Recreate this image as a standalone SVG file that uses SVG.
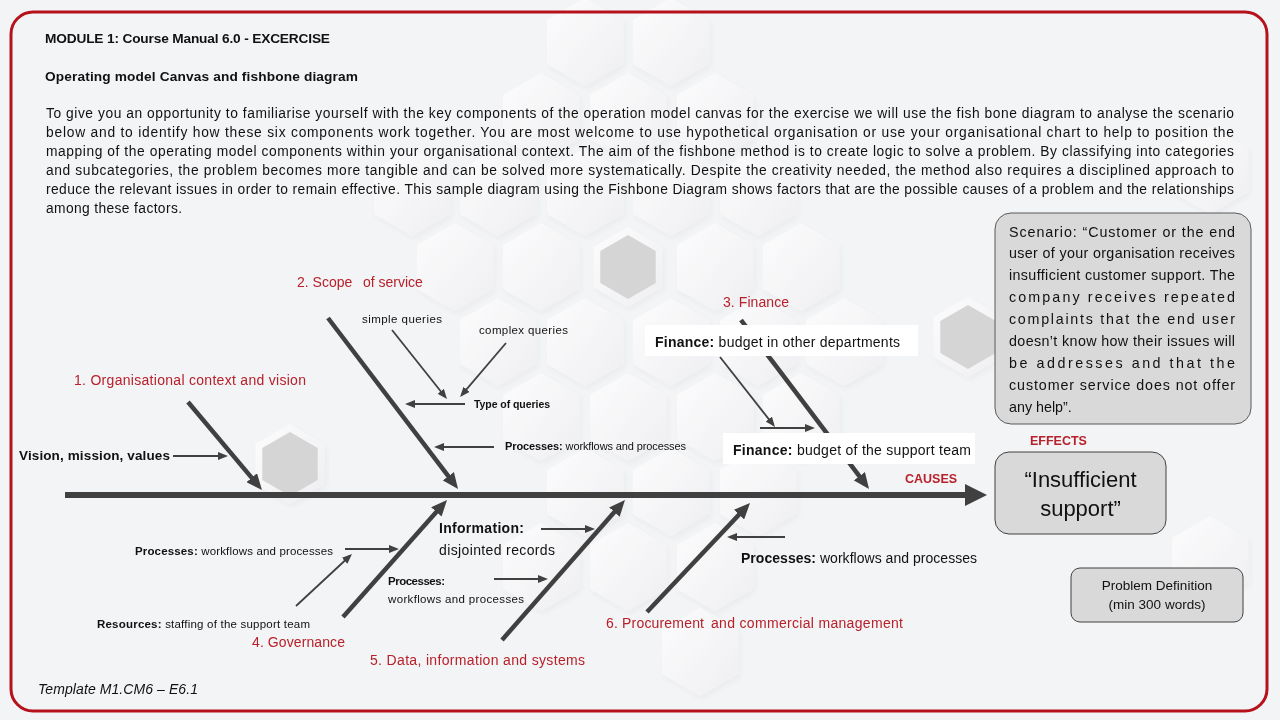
<svg xmlns="http://www.w3.org/2000/svg" xmlns:xlink="http://www.w3.org/1999/xlink" width="1280" height="720" viewBox="0 0 1280 720">
<defs>
<style>
.t{font-family:"Liberation Sans",Arial,sans-serif;fill:#111}
.b{font-weight:bold}
.red{fill:#b8202a}
.thick{stroke:#404040;stroke-width:4.5;fill:none;marker-end:url(#hd)}
.thin{stroke:#404040;stroke-width:1.8;fill:none;marker-end:url(#hs)}
.hx{fill:url(#hg)}
</style>
<linearGradient id="hg" x1="0" y1="0" x2="1" y2="1">
<stop offset="0" stop-color="#ffffff"/>
<stop offset="1" stop-color="#eeeef0"/>
</linearGradient>
<filter id="sh" x="-20%" y="-20%" width="140%" height="140%">
<feDropShadow dx="2" dy="3" stdDeviation="3" flood-color="#000" flood-opacity="0.05"/>
</filter>
<polygon id="hx" points="0,-44 38.1,-22 38.1,22 0,44 -38.1,22 -38.1,-22"/>
<polygon id="hxr" points="0,-40 34.6,-20 34.6,20 0,40 -34.6,20 -34.6,-20"/>
<polygon id="hxg" points="0,-32 27.7,-16 27.7,16 0,32 -27.7,16 -27.7,-16"/>
<marker id="hd" markerUnits="userSpaceOnUse" markerWidth="16" markerHeight="14" refX="10" refY="7" orient="auto">
<path d="M0,0 L16,7 L0,14 z" fill="#404040"/>
</marker>
<marker id="hs" markerUnits="userSpaceOnUse" markerWidth="10" markerHeight="8" refX="7" refY="4" orient="auto">
<path d="M0,0 L10,4 L0,8 z" fill="#404040"/>
</marker>
<marker id="hm" markerUnits="userSpaceOnUse" markerWidth="22" markerHeight="22" refX="12" refY="11" orient="auto">
<path d="M0,0 L22,11 L0,22 z" fill="#404040"/>
</marker>
</defs>

<rect x="0" y="0" width="1280" height="720" fill="#f3f4f6"/>

<g id="background-hexagons" filter="url(#sh)" opacity="0.75">
<use xlink:href="#hx" href="#hx" class="hx" x="585" y="42"/>
<use xlink:href="#hx" href="#hx" class="hx" x="671" y="42"/>
<use xlink:href="#hx" href="#hx" class="hx" x="541" y="117"/>
<use xlink:href="#hx" href="#hx" class="hx" x="628" y="117"/>
<use xlink:href="#hx" href="#hx" class="hx" x="715" y="117"/>
<use xlink:href="#hx" href="#hx" class="hx" x="412" y="192"/>
<use xlink:href="#hx" href="#hx" class="hx" x="498" y="192"/>
<use xlink:href="#hx" href="#hx" class="hx" x="585" y="192"/>
<use xlink:href="#hx" href="#hx" class="hx" x="671" y="192"/>
<use xlink:href="#hx" href="#hx" class="hx" x="758" y="192"/>
<use xlink:href="#hx" href="#hx" class="hx" x="455" y="267"/>
<use xlink:href="#hx" href="#hx" class="hx" x="541" y="267"/>
<use xlink:href="#hx" href="#hx" class="hx" x="715" y="267"/>
<use xlink:href="#hx" href="#hx" class="hx" x="801" y="267"/>
<use xlink:href="#hx" href="#hx" class="hx" x="498" y="342"/>
<use xlink:href="#hx" href="#hx" class="hx" x="585" y="342"/>
<use xlink:href="#hx" href="#hx" class="hx" x="671" y="342"/>
<use xlink:href="#hx" href="#hx" class="hx" x="758" y="342"/>
<use xlink:href="#hx" href="#hx" class="hx" x="844" y="342"/>
<use xlink:href="#hx" href="#hx" class="hx" x="541" y="417"/>
<use xlink:href="#hx" href="#hx" class="hx" x="628" y="417"/>
<use xlink:href="#hx" href="#hx" class="hx" x="715" y="417"/>
<use xlink:href="#hx" href="#hx" class="hx" x="801" y="417"/>
<use xlink:href="#hx" href="#hx" class="hx" x="585" y="492"/>
<use xlink:href="#hx" href="#hx" class="hx" x="671" y="492"/>
<use xlink:href="#hx" href="#hx" class="hx" x="758" y="492"/>
<use xlink:href="#hx" href="#hx" class="hx" x="541" y="567"/>
<use xlink:href="#hx" href="#hx" class="hx" x="628" y="567"/>
<use xlink:href="#hx" href="#hx" class="hx" x="715" y="567"/>
<use xlink:href="#hx" href="#hx" class="hx" x="700" y="652"/>
<use xlink:href="#hx" href="#hx" class="hx" x="1210" y="170"/>
<use xlink:href="#hx" href="#hx" class="hx" x="1210" y="560"/>
<use xlink:href="#hxr" href="#hxr" class="hx" x="628" y="267"/>
<use xlink:href="#hxr" href="#hxr" class="hx" x="290" y="464"/>
<use xlink:href="#hxr" href="#hxr" class="hx" x="968" y="337"/>
</g>
<g id="gray-hexagons" fill="#d5d5d6">
<use xlink:href="#hxg" href="#hxg" x="628" y="267"/>
<use xlink:href="#hxg" href="#hxg" x="290" y="464"/>
<use xlink:href="#hxg" href="#hxg" x="968" y="337"/>
</g>

<rect id="frame" x="11" y="12" width="1256" height="699" rx="22" fill="none" stroke="#b5121b" stroke-width="3"/>

<g id="header">
<text class="t b" x="45" y="43" font-size="13.7" textLength="285">MODULE 1: Course Manual 6.0 - EXCERCISE</text>
<text class="t b" x="45" y="81" font-size="13.7" textLength="313">Operating model Canvas and fishbone diagram</text>
<g font-size="13.8">
<text class="t" x="46" y="118" textLength="1188">To give you an opportunity to familiarise yourself with the key components of the operation model canvas for the exercise we will use the fish bone diagram to analyse the scenario</text>
<text class="t" x="46" y="137" textLength="1188">below and to identify how these six components work together. You are most welcome to use hypothetical organisation or use your organisational chart to help to position the</text>
<text class="t" x="46" y="156" textLength="1188">mapping of the operating model components within your organisational context. The aim of the fishbone method is to create logic to solve a problem. By classifying into categories</text>
<text class="t" x="46" y="175" textLength="1188">and subcategories, the problem becomes more tangible and can be solved more systematically. Despite the creativity needed, the method also requires a disciplined approach to</text>
<text class="t" x="46" y="194" textLength="1188">reduce the relevant issues in order to remain effective. This sample diagram using the Fishbone Diagram shows factors that are the possible causes of a problem and the relationships</text>
<text class="t" x="46" y="213" textLength="136">among these factors.</text>
</g>
</g>

<g id="connectors">
<line x1="65" y1="495" x2="977" y2="495" stroke="#404040" stroke-width="6" marker-end="url(#hm)"/>
<line class="thick" x1="188" y1="402" x2="258.1" y2="485.4"/>
<line class="thick" x1="328" y1="318" x2="454.4" y2="484.2"/>
<line class="thick" x1="741" y1="320" x2="865.4" y2="484.2"/>
<line class="thick" x1="343" y1="617" x2="443" y2="504.5"/>
<line class="thick" x1="502" y1="640" x2="621" y2="504.5"/>
<line class="thick" x1="647" y1="612" x2="745.9" y2="507.4"/>
<line class="thin" x1="173" y1="456" x2="225" y2="456"/>
<line class="thin" x1="392" y1="330" x2="445.1" y2="396.7"/>
<line class="thin" x1="506" y1="343" x2="462" y2="394.7"/>
<line class="thin" x1="465" y1="404" x2="408" y2="404"/>
<line class="thin" x1="494" y1="447" x2="437" y2="447"/>
<line class="thin" x1="720" y1="357" x2="773.1" y2="424.6"/>
<line class="thin" x1="760" y1="428" x2="812" y2="428"/>
<line class="thin" x1="345" y1="549" x2="396" y2="549"/>
<line class="thin" x1="296" y1="606" x2="349.8" y2="556"/>
<line class="thin" x1="541" y1="529" x2="592" y2="529"/>
<line class="thin" x1="494" y1="579" x2="545" y2="579"/>
<line class="thin" x1="785" y1="537" x2="730" y2="537"/>
</g>

<g id="cat-1">
<text class="t red" x="74" y="385" font-size="14" textLength="232">1. Organisational context and vision</text>
</g>
<g id="cat-2">
<text class="t red" font-size="14" y="287"><tspan x="297">2. Scope</tspan><tspan x="363">of service</tspan></text>
</g>
<g id="cat-3">
<text class="t red" x="723" y="307" font-size="14" textLength="66">3. Finance</text>
</g>
<g id="cat-4">
<text class="t red" x="252" y="647" font-size="14" textLength="93">4. Governance</text>
</g>
<g id="cat-5">
<text class="t red" x="370" y="665" font-size="14" textLength="215">5. Data, information and systems</text>
</g>
<g id="cat-6">
<text class="t red" font-size="14" y="628"><tspan x="606" textLength="98">6. Procurement</tspan><tspan x="711" textLength="192">and commercial management</tspan></text>
</g>

<g id="vision">
<text class="t b" x="19" y="460" font-size="13.5" textLength="151">Vision, mission, values</text>
</g>
<g id="simple-queries">
<text class="t" x="362" y="323" font-size="11.5" textLength="80">simple queries</text>
</g>
<g id="complex-queries">
<text class="t" x="479" y="334" font-size="11.5" textLength="89">complex queries</text>
</g>
<g id="type-of-queries">
<text class="t b" x="474" y="408" font-size="10.5" textLength="76">Type of queries</text>
</g>
<g id="processes-top">
<text class="t" x="505" y="450" font-size="11" textLength="181"><tspan class="b">Processes:</tspan> workflows and processes</text>
</g>
<g id="finance-other">
<rect x="645" y="325" width="273" height="31" fill="#ffffff"/>
<text class="t" x="655" y="347" font-size="14" textLength="245"><tspan class="b">Finance:</tspan> budget in other departments</text>
</g>
<g id="finance-support">
<rect x="723" y="433" width="252" height="31" fill="#ffffff"/>
<text class="t" x="733" y="455" font-size="14" textLength="238"><tspan class="b">Finance:</tspan> budget of the support team</text>
</g>
<g id="causes">
<text class="t b" x="905" y="483" font-size="12.5" style="fill:#b8202a">CAUSES</text>
</g>
<g id="effects">
<text class="t b" x="1030" y="445" font-size="12.5" style="fill:#b8202a">EFFECTS</text>
</g>
<g id="scenario">
<rect x="995" y="213" width="256" height="211" rx="16" fill="#d9d9d9" stroke="#595959" stroke-width="1"/>
<g font-size="14.3">
<text class="t" x="1009" y="237" textLength="226">Scenario: “Customer or the end</text>
<text class="t" x="1009" y="258" textLength="226">user of your organisation receives</text>
<text class="t" x="1009" y="280" textLength="226">insufficient customer support. The</text>
<text class="t" x="1009" y="302" textLength="226">company receives repeated</text>
<text class="t" x="1009" y="324" textLength="226">complaints that the end user</text>
<text class="t" x="1009" y="346" textLength="226">doesn’t know how their issues will</text>
<text class="t" x="1009" y="368" textLength="226">be addresses and that the</text>
<text class="t" x="1009" y="390" textLength="226">customer service does not offer</text>
<text class="t" x="1009" y="412">any help”.</text>
</g>
</g>
<g id="effect-box">
<rect x="995" y="452" width="171" height="82" rx="14" fill="#d9d9d9" stroke="#404040" stroke-width="1"/>
<text class="t" x="1080.5" y="487" font-size="22" text-anchor="middle">“Insufficient</text>
<text class="t" x="1080.5" y="516" font-size="22" text-anchor="middle">support”</text>
</g>
<g id="problem-definition">
<rect x="1071" y="568" width="172" height="54" rx="9" fill="#d9d9d9" stroke="#404040" stroke-width="1"/>
<text class="t" x="1157" y="590" font-size="13.5" text-anchor="middle">Problem  Definition</text>
<text class="t" x="1157" y="609" font-size="13.5" text-anchor="middle">(min 300 words)</text>
</g>
<g id="processes-bottom-left">
<text class="t" x="135" y="555" font-size="11.5" textLength="198"><tspan class="b">Processes:</tspan> workflows and processes</text>
</g>
<g id="resources">
<text class="t" x="97" y="628" font-size="11.5" textLength="213"><tspan class="b">Resources:</tspan> staffing of the support team</text>
</g>
<g id="information">
<text class="t b" x="439" y="533" font-size="14" textLength="85">Information:</text>
<text class="t" x="439" y="555" font-size="14" textLength="116">disjointed records</text>
</g>
<g id="processes-mid">
<text class="t b" x="388" y="585" font-size="11.5" textLength="57">Processes:</text>
<text class="t" x="388" y="603" font-size="11.5" textLength="136">workflows and processes</text>
</g>
<g id="processes-right">
<text class="t" x="741" y="563" font-size="14" textLength="236"><tspan class="b">Processes:</tspan> workflows and processes</text>
</g>
<g id="template">
<text class="t" x="38" y="694" font-size="14" font-style="italic" textLength="160">Template M1.CM6 – E6.1</text>
</g>
</svg>
